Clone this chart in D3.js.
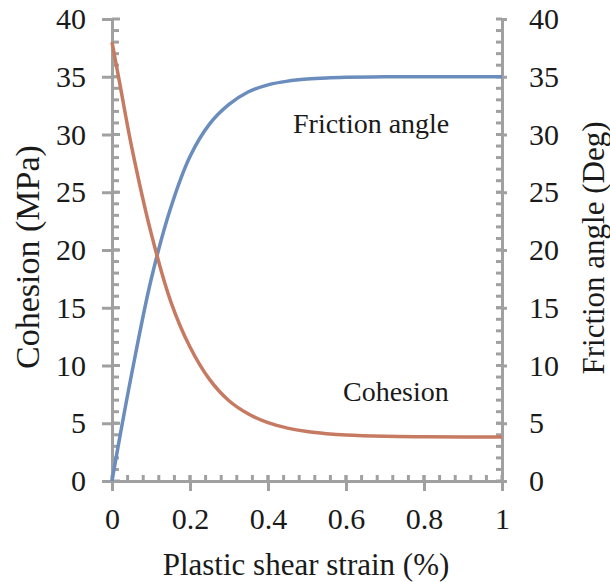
<!DOCTYPE html>
<html lang="en">
<head>
    <meta charset="UTF-8">
    <title>Cohesion and friction angle</title>
    <script src="https://cdn.jsdelivr.net/npm/d3@7"></script>
    <style>
        html, body {
            margin: 0;
            padding: 0;
            background: #fff;
            overflow: hidden;
        }
        text {
            font-family: "Liberation Serif", "Times New Roman", serif;
            fill: #1a1a1a;
        }
    </style>
</head>
<body>
</body>
<script>
    let width = 610;
    let height = 582;

    // strain (%) sample points
    let strain = [0, 0.02, 0.05, 0.1, 0.15, 0.2, 0.25, 0.3, 0.35, 0.4, 0.45, 0.5, 0.55, 0.6, 0.7, 0.8, 0.9, 1.0];
    // cohesion (MPa)
    let cohesion = [38, 34.4, 29, 21.5, 15.6, 11.6, 8.8, 6.95, 5.8, 5.05, 4.58, 4.28, 4.1, 3.98, 3.87, 3.83, 3.81, 3.8];
    // friction angle (deg)
    let friction = [0, 3.8, 9.2, 17.4, 23.6, 28.1, 30.9, 32.6, 33.7, 34.3, 34.62, 34.8, 34.9, 34.95, 35, 35, 35, 35];

    let xTicks = [0, 0.2, 0.4, 0.6, 0.8, 1];
    let yTicks = [0, 5, 10, 15, 20, 25, 30, 35, 40];

    let plotLeft = 112, plotRight = 502, plotTop = 19, plotBottom = 481;
    let axisColor = '#a0a0a0';
    let blue = '#6b8dbd';
    let red = '#c77a62';

    let x = d3.scaleLinear().domain([0, 1]).range([plotLeft, plotRight]);
    let yL = d3.scaleLinear().domain([0, 40]).range([plotBottom, plotTop]);
    let yR = d3.scaleLinear().domain([0, 40]).range([plotBottom, plotTop]);

    let svg = d3.select('body').append('svg')
        .attr('width', width)
        .attr('height', height);

    // minor ticks
    let gMinor = svg.append('g').attr('stroke', axisColor).attr('stroke-width', 3);
    d3.range(1, 40).forEach(v => {
        gMinor.append('line').attr('x1', plotLeft).attr('x2', plotLeft + 7)
            .attr('y1', yL(v)).attr('y2', yL(v));
        gMinor.append('line').attr('x1', plotRight).attr('x2', plotRight - 6)
            .attr('y1', yR(v)).attr('y2', yR(v));
    });
    d3.range(1, 25).forEach(i => {
        let v = i * 0.04;
        gMinor.append('line').attr('x1', x(v)).attr('x2', x(v))
            .attr('y1', plotBottom).attr('y2', plotBottom - 6);
    });

    // inner part of major ticks
    yTicks.forEach(v => {
        gMinor.append('line').attr('x1', plotLeft).attr('x2', plotLeft + 8)
            .attr('y1', yL(v)).attr('y2', yL(v));
        gMinor.append('line').attr('x1', plotRight).attr('x2', plotRight - 6)
            .attr('y1', yR(v)).attr('y2', yR(v));
    });
    xTicks.forEach(v => {
        gMinor.append('line').attr('x1', x(v)).attr('x2', x(v))
            .attr('y1', plotBottom).attr('y2', plotBottom - 6);
    });

    // axes
    let axisL = d3.axisLeft(yL).tickValues(yTicks).tickSize(10).tickSizeOuter(0).tickPadding(16);
    let axisR = d3.axisRight(yR).tickValues(yTicks).tickSize(5).tickSizeOuter(0).tickPadding(22);
    let axisB = d3.axisBottom(x).tickValues(xTicks).tickSize(10).tickSizeOuter(0).tickPadding(17)
        .tickFormat(d => d3.format('')(d));

    let gL = svg.append('g').attr('transform', `translate(${plotLeft},0)`).call(axisL);
    let gR = svg.append('g').attr('transform', `translate(${plotRight},0)`).call(axisR);
    let gB = svg.append('g').attr('transform', `translate(0,${plotBottom})`).call(axisB);

    [gL, gR, gB].forEach(g => {
        g.select('.domain').attr('stroke', axisColor).attr('stroke-width', 3);
        g.selectAll('.tick line').attr('stroke', axisColor).attr('stroke-width', 3);
        g.selectAll('.tick text')
            .style('font-family', '"Liberation Serif", "Times New Roman", serif')
            .style('font-size', '30px')
            .attr('fill', '#1a1a1a');
    });

    // curves
    let data = strain.map((s, i) => ({s: s, c: cohesion[i], f: friction[i]}));
    let curve = d3.curveCatmullRom.alpha(0.5);

    svg.append('path')
        .datum(data)
        .attr('fill', 'none')
        .attr('stroke', blue)
        .attr('stroke-width', 3.5)
        .attr('d', d3.line().x(d => x(d.s)).y(d => yR(d.f)).curve(curve));

    svg.append('path')
        .datum(data)
        .attr('fill', 'none')
        .attr('stroke', red)
        .attr('stroke-width', 3.5)
        .attr('d', d3.line().x(d => x(d.s)).y(d => yL(d.c)).curve(curve));

    // series labels
    svg.append('text').attr('x', 293).attr('y', 133)
        .style('font-size', '28px').text('Friction angle');
    svg.append('text').attr('x', 343).attr('y', 401)
        .style('font-size', '28px').text('Cohesion');

    // axis titles
    svg.append('text').attr('x', 306).attr('y', 575)
        .attr('text-anchor', 'middle')
        .style('font-size', '31px').text('Plastic shear strain (%)');
    svg.append('text')
        .attr('transform', 'translate(39,257) rotate(-90)')
        .attr('text-anchor', 'middle')
        .style('font-size', '34px').text('Cohesion (MPa)');
    svg.append('text')
        .attr('transform', 'translate(604,248) rotate(-90)')
        .attr('text-anchor', 'middle')
        .style('font-size', '31px').text('Friction angle (Deg)');
</script>
</html>
